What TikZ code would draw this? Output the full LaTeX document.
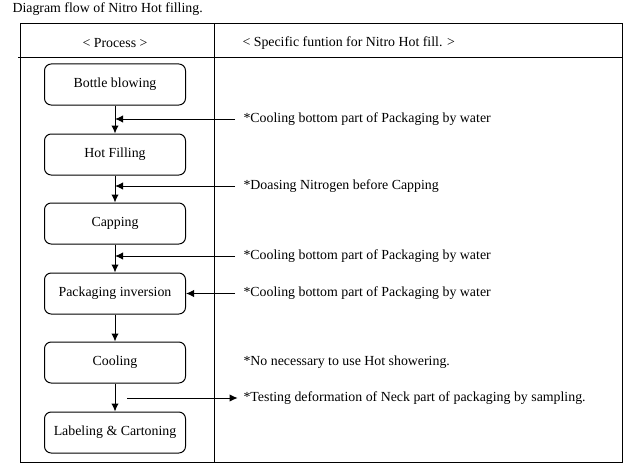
\documentclass[tikz,border=0pt]{standalone}
\usepackage{fontspec}
\setmainfont{Liberation Serif}
\usetikzlibrary{positioning, arrows.meta}
\begin{document}
\begin{tikzpicture}[x=0.75pt, y=-0.75pt, line width=0.75pt, font=\fontsize{10.4}{12}\selectfont,
    procbox/.style={draw, rounded corners=5pt, minimum width=105.75pt, minimum height=30.75pt, inner sep=0pt},
    note/.style={anchor=west, inner sep=0pt},
    arr/.style={-{Latex[length=6pt, width=5.5pt]}}]

    \useasboundingbox (0,0) rectangle (634,467);

    % title
    \node[anchor=west, inner sep=0pt] (title) at (12,9) {Diagram flow of Nitro Hot filling.};

    % table
    \draw (20,24) rectangle (622,462);
    \draw (18,58) -- (623,58);
    \draw (214,24) -- (214,462);
    \node (hproc) at (115,43) {< Process >};
    \node[note] (hfunc) at (242,43) {< Specific funtion for Nitro Hot fill. >};

    % process steps
    \node[procbox] (blow) at (115,84.5) {Bottle blowing};
    \node[procbox] (fill) at (115,154.5) {Hot Filling};
    \node[procbox] (cap) at (115,223.5) {Capping};
    \node[procbox] (inv) at (115,293.5) {Packaging inversion};
    \node[procbox] (cool) at (115,362.5) {Cooling};
    \node[procbox] (label) at (115,432.5) {Labeling \& Cartoning};

    \draw[arr] (blow) -- (fill);
    \draw[arr] (fill) -- (cap);
    \draw[arr] (cap) -- (inv);
    \draw[arr] (inv) -- (cool);
    \draw[arr] (cool) -- (label);

    % specific functions
    \node[note] (f1) at (243,119) {*Cooling bottom part of Packaging by water};
    \node[note] (f2) at (243,186) {*Doasing Nitrogen before Capping};
    \node[note] (f3) at (243,256) {*Cooling bottom part of Packaging by water};
    \node[note] (f4) at (243,293.5) {*Cooling bottom part of Packaging by water};
    \node[note] (f5) at (243,362) {*No necessary to use Hot showering.};
    \node[note] (f6) at (243,398) {*Testing deformation of Neck part of packaging by sampling.};

    \coordinate (s6) at (127,398);

    \draw[arr] ([xshift=-6pt]f1.west) -- (f1.west -| blow.south);
    \draw[arr] ([xshift=-6pt]f2.west) -- (f2.west -| fill.south);
    \draw[arr] ([xshift=-6pt]f3.west) -- (f3.west -| cap.south);
    \draw[arr] ([xshift=-6pt]f4.west) -- (inv.east);
    \draw[arr] (s6) -- ([xshift=-4pt]f6.west);

\end{tikzpicture}
\end{document}
